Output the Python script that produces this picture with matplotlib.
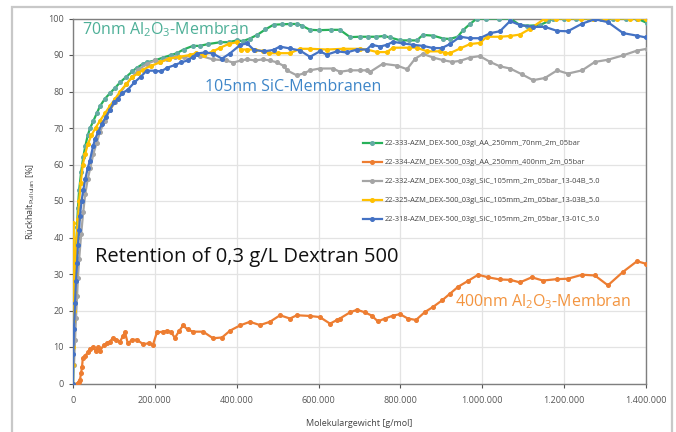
import numpy as np
import matplotlib
matplotlib.use("Agg")
import matplotlib.pyplot as plt
from matplotlib.patches import Rectangle
from matplotlib.ticker import FuncFormatter, MultipleLocator

# ---------------- data (molecular weight in kg/mol -> g/mol) ----------------
labels = [
    "22-333-AZM_DEX-500_03gl_AA_250mm_70nm_2m_05bar",
    "22-334-AZM_DEX-500_03gl_AA_250mm_400nm_2m_05bar",
    "22-332-AZM_DEX-500_03gl_SiC_105mm_2m_05bar_13-04B_5.0",
    "22-325-AZM_DEX-500_03gl_SiC_105mm_2m_05bar_13-03B_5.0",
    "22-318-AZM_DEX-500_03gl_SiC_105mm_2m_05bar_13-01C_5.0",
]

green_x = [0, 2.4, 5, 7.3, 10, 12, 15, 20, 25, 30, 36, 42, 50, 58, 66, 78, 90, 103, 115, 130,
           145, 156, 170, 181, 200, 220, 240, 254, 270, 293, 310, 330, 360, 380, 400, 415, 432,
           450, 470, 490, 510, 530, 547, 560, 579, 600, 630, 652, 677, 700, 720, 740, 760, 775,
           800, 820, 840, 855, 880, 905, 921, 940, 953, 970, 987, 1010, 1040, 1068, 1092, 1110,
           1141, 1160, 1173, 1200, 1230, 1260, 1290, 1320, 1350, 1378, 1402]
green_y = [0, 18, 28, 36, 43, 48, 53, 58, 62, 65, 68, 70, 72, 74, 76, 78, 79.5, 81, 82.5, 84,
           85.5, 86.5, 87.5, 88, 88.5, 89.3, 90, 90.5, 91.5, 92.5, 92.5, 93, 93.5, 93.5, 94, 93.8,
           94.5, 95.5, 97, 98.3, 98.4, 98.5, 98.5, 98, 96.9, 96.8, 96.9, 96.9, 94.9, 95, 95, 95,
           95.2, 94.8, 94, 94, 94, 95.5, 95.3, 94.5, 94.4, 95, 96.8, 98.5, 100, 100, 100, 100,
           98.2, 98, 98.2, 99.2, 100, 100, 100, 100, 100, 100, 100, 100, 98.8]

orange_x = [10, 14, 17, 20, 22, 24, 29, 36, 42, 49, 55, 62, 66, 75, 83, 90, 98, 105, 115, 122,
            127, 134, 145, 156, 171, 185, 195, 205, 220, 230, 240, 249, 260, 269, 280, 293, 318,
            342, 364, 384, 408, 432, 457, 481, 506, 530, 547, 579, 603, 628, 645, 652, 677, 694,
            713, 730, 745, 762, 782, 799, 818, 838, 860, 880, 902, 921, 941, 965, 990, 1014,
            1043, 1068, 1092, 1121, 1148, 1183, 1209, 1244, 1275, 1307, 1344, 1378, 1400]
orange_y = [0, 0.5, 1, 3, 4.5, 7, 7.5, 8.5, 9.5, 10, 9, 10, 9, 10.5, 11, 11.5, 12.5, 12, 11.5,
            13, 14, 11, 12, 12, 10.8, 11, 10.5, 14, 14.2, 14.5, 14, 12.5, 14.5, 15.9, 14.8, 14.2,
            14.2, 12.4, 12.6, 14.5, 15.9, 16.9, 16, 16.9, 18.7, 17.8, 18.7, 18.5, 18.2, 16.4,
            17.4, 17.8, 19.5, 20.2, 19.5, 18.6, 17, 17.8, 18.6, 19, 17.8, 17.4, 19.6, 21, 22.8,
            24.6, 26.5, 28.1, 29.8, 29.1, 28.5, 28.4, 27.7, 29.1, 28.2, 28.6, 28.7, 29.8, 29.6,
            26.9, 30.6, 33.5, 32.8]

gray_x = [2.4, 5, 7.3, 10, 12, 15, 20, 25, 30, 36, 42, 50, 58, 66, 78, 90, 103, 115, 130, 145,
          160, 180, 200, 213, 230, 249, 270, 293, 310, 342, 375, 391, 410, 425, 445, 464, 481,
          498, 515, 523, 547, 565, 579, 603, 635, 652, 676, 700, 718, 725, 757, 792, 816, 836,
          855, 880, 904, 926, 946, 970, 994, 1019, 1043, 1068, 1097, 1124, 1153, 1183, 1209,
          1244, 1275, 1307, 1344, 1378, 1402]
gray_y = [5, 12, 18, 24, 29, 34, 41, 47, 52, 56, 59, 63, 66, 69, 72, 75, 77, 79.5, 82, 84, 86,
          87.5, 88.5, 88, 89, 89.5, 89.5, 89.7, 89.8, 88.8, 88.5, 87.9, 88.5, 88.8, 88.5, 88.8,
          88.5, 88, 87, 85.8, 84.4, 85, 85.8, 86.3, 86.3, 85.4, 85.8, 85.8, 85.8, 85.3, 87.6,
          87.1, 86.1, 89, 90.3, 89.3, 88.6, 88.1, 88.4, 89.3, 89.7, 88.1, 86.9, 86.3, 84.7, 83.1,
          83.7, 85.8, 84.9, 85.8, 88.1, 88.7, 89.9, 91.2, 91.7]

yellow_x = [0, 0.3, 0.5, 0.6, 0.8, 1, 1.2, 1.5, 3, 5, 7, 9, 12, 15, 19, 24, 30, 36, 45, 55, 66,
            78, 90, 103, 115, 130, 145, 160, 171, 190, 213, 235, 260, 286, 300, 320, 342, 360,
            380, 400, 410, 425, 445, 465, 480, 500, 530, 555, 580, 620, 660, 700, 718, 743, 767,
            782, 820, 840, 865, 897, 910, 921, 946, 970, 994, 1011, 1043, 1068, 1092, 1117, 1153,
            1180, 1210, 1240, 1270, 1300, 1330, 1360, 1380, 1400]
yellow_y = [0, 5, 10, 17, 44, 31.5, 29, 20, 25, 30, 36, 40, 45, 50, 55, 60, 63, 65.5, 68, 70,
            72, 74, 76, 78, 80, 82, 84, 85, 86, 87, 88, 89, 89.5, 90, 90.5, 90, 91, 92, 93, 93.5,
            91.5, 91.5, 91.5, 91, 90.5, 90.5, 90.5, 91.7, 91.7, 91.5, 91.7, 91.7, 91.5, 90.8,
            90.8, 92, 92, 92, 91, 91, 90.5, 90.5, 91.8, 93, 93.3, 95, 95, 95.2, 95.6, 97.2, 100,
            100, 100, 100, 100, 100, 100, 100, 100, 100]

blue_x = [0, 1, 2.4, 5, 7.3, 10, 12, 15, 17, 21, 25, 30, 36, 41, 49, 54, 62, 70, 80, 90, 100,
          110, 120, 134, 150, 165, 180, 200, 215, 230, 250, 265, 280, 293, 303, 322, 342, 364,
          383, 408, 425, 442, 467, 490, 505, 530, 555, 579, 603, 620, 645, 669, 694, 718, 730,
          750, 767, 782, 806, 830, 855, 880, 901, 921, 946, 970, 994, 1020, 1043, 1068, 1092,
          1124, 1153, 1183, 1209, 1244, 1275, 1307, 1344, 1378, 1400]
blue_y = [0, 8, 15, 22, 28, 33, 38, 42, 46, 50, 53, 56, 59, 61, 65, 67, 69, 71, 73, 75, 77, 78,
          79.5, 80.5, 82.5, 84, 85.7, 85.7, 85.5, 86.5, 87.3, 88, 88.5, 89.5, 90.4, 90.7, 90.4,
          89, 90.4, 92.7, 93.2, 91.4, 91, 91.4, 92.3, 91.8, 91.2, 89.5, 91, 90.1, 91, 90.7, 91.5,
          91.5, 92.8, 92.3, 92.8, 93.6, 93.2, 92.8, 92.5, 91.9, 91.9, 93, 95, 94.6, 94.6, 96,
          96.5, 99.3, 98.2, 97.7, 97.7, 96.6, 96.5, 98.6, 99.8, 99, 96, 95.3, 94.8]

series = [
    (green_x, green_y, "#27B15A", "#63ABA3"),
    (orange_x, orange_y, "#ED7D31", "#ED7D31"),
    (gray_x, gray_y, "#A5A5A5", "#A5A5A5"),
    (yellow_x, yellow_y, "#FFC000", "#FFC000"),
    (blue_x, blue_y, "#4472C4", "#4472C4"),
]

x_ticks = [0, 200000, 400000, 600000, 800000, 1000000, 1200000, 1400000]

# ---------------- figure ----------------
plt.rcParams['font.family'] = ['Open Sans', 'DejaVu Sans']
fig = plt.figure(figsize=(6.76, 4.32), dpi=100)
ax = fig.add_axes([73 / 676, 1 - 383.5 / 432, 573 / 676, 365 / 432])

# outer chart border
fig.patches.append(Rectangle((12 / 676, -0.05), 660 / 676, 1.05 - 7 / 432,
                             transform=fig.transFigure, fill=False,
                             edgecolor="#C8C8C8", linewidth=1.6, clip_on=False))

for (xs, ys, lc, mc), lab in zip(series, labels):
    ax.plot(np.array(xs) * 1000, ys, color=lc, lw=1.6, marker="o", ms=2.6,
            mfc=mc, mec=mc, label=lab, zorder=3)

ax.set_xlim(0, 1400000)
ax.set_ylim(0, 100)
ax.set_xticks(x_ticks)
ax.xaxis.set_major_formatter(FuncFormatter(lambda v, p: f"{int(v):,}".replace(",", ".")))
ax.yaxis.set_major_locator(MultipleLocator(10))
ax.grid(True, color="#E3E3E3", lw=0.9, zorder=0)
for s in ax.spines.values():
    s.set_color("#7F7F7F")
    s.set_linewidth(1.0)
ax.tick_params(axis="both", labelsize=6.5, colors="#555555", length=3, width=0.8)
ax.tick_params(axis="x", pad=6)

ax.set_xlabel("Molekulargewicht [g/mol]", fontsize=6.5, color="#444444", labelpad=10)
ax.set_ylabel(r"Rückhalt$_{\mathregular{Pullulan}}$ [%]", fontsize=6.5, color="#444444",
              labelpad=8)

leg = ax.legend(loc="upper left", bbox_to_anchor=(0.50, 0.675), frameon=False,
                fontsize=5.4, handlelength=2.6, labelspacing=1.56, handletextpad=0.3,
                borderaxespad=0)
for t in leg.get_texts():
    t.set_color("#444444")

ax.text(82 / 676, 1 - 30 / 432, r"70nm Al$_\mathregular{2}$O$_\mathregular{3}$-Membran",
        transform=fig.transFigure, fontsize=11.5, color="#4DAF97", va="center", ha="left")
ax.text(205 / 676, 1 - 87 / 432, "105nm SiC-Membranen",
        transform=fig.transFigure, fontsize=11.5, color="#3E86C8", va="center", ha="left")
ax.text(95 / 676, 1 - 257 / 432, "Retention of 0,3 g/L Dextran 500",
        transform=fig.transFigure, fontsize=14.5, color="#111111", va="center", ha="left")
ax.text(455 / 676, 1 - 302 / 432, r"400nm Al$_\mathregular{2}$O$_\mathregular{3}$-Membran",
        transform=fig.transFigure, fontsize=11.5, color="#F3943F", va="center", ha="left")

fig.savefig("out.png", dpi=100)
